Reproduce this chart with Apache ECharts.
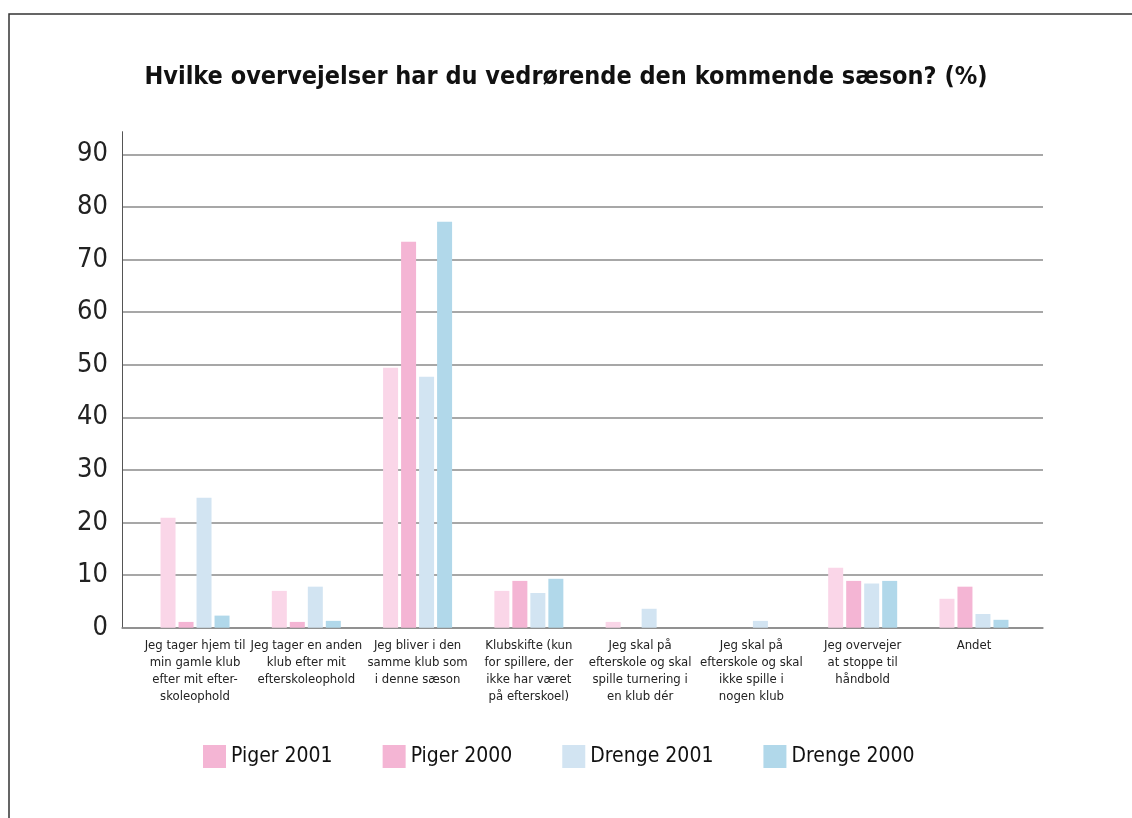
<!DOCTYPE html>
<html><head><meta charset="utf-8">
<script src="https://cdn.jsdelivr.net/npm/echarts@6/dist/echarts.min.js"></script>
<style>html,body{margin:0;padding:0;background:#fff}#c{width:1132px;height:818px}</style>
</head><body><div id="c"></div>
<script>
const categories = [
  'Jeg tager hjem til\nmin gamle klub\nefter mit efter-\nskoleophold',
  'Jeg tager en anden\nklub efter mit\nefterskoleophold',
  'Jeg bliver i den\nsamme klub som\ni denne sæson',
  'Klubskifte (kun\nfor spillere, der\nikke har været\npå efterskoel)',
  'Jeg skal på\nefterskole og skal\nspille turnering i\nen klub dér',
  'Jeg skal på\nefterskole og skal\nikke spille i\nnogen klub',
  'Jeg overvejer\nat stoppe til\nhåndbold',
  'Andet'
];
const seriesNames = ['Piger 2001', 'Piger 2000', 'Drenge 2001', 'Drenge 2000'];
const piger2001 = [20.9, 7.0, 49.4, 7.0, 1.1, 0, 11.4, 5.5];
const piger2000 = [1.1, 1.1, 73.4, 8.9, 0, 0, 8.9, 7.8];
const drenge2001 = [24.7, 7.8, 47.7, 6.6, 3.6, 1.3, 8.4, 2.6];
const drenge2000 = [2.3, 1.3, 77.2, 9.3, 0, 0, 8.9, 1.5];
const yTickLabels = [0, 10, 20, 30, 40, 50, 60, 70, 80, 90];

const barColors = ['#fad6e8', '#f4b5d4', '#d2e4f2', '#b1d8ea'];
const legendColors = ['#f4b5d4', '#f4b5d4', '#d2e4f2', '#b1d8ea'];
const FONT = "'Liberation Sans Narrow', 'DejaVu Sans Condensed', 'Liberation Sans', sans-serif";
const YMAX = 94.3;

const values = [piger2001, piger2000, drenge2001, drenge2000];
const splitColors = yTickLabels.map(() => '#8a8a8a').concat(['rgba(0,0,0,0)']);

const chart = echarts.init(document.getElementById('c'), null, {renderer: 'canvas'});
chart.setOption({
  backgroundColor: '#fff',
  animation: false,
  title: {
    text: 'Hvilke overvejelser har du vedrørende den kommende sæson? (%)',
    left: 'center', top: 60,
    textStyle: {fontFamily: FONT, fontWeight: 'bold', fontSize: 25, color: '#111'}
  },
  graphic: [{
    type: 'polyline', silent: true,
    shape: {points: [[9, 818], [9, 14], [1132, 14]]},
    style: {stroke: '#333', lineWidth: 1.5, fill: null}
  }],
  legend: {
    left: 198, top: 740,
    itemWidth: 23, itemHeight: 23, itemGap: 50,
    icon: 'rect',
    textStyle: {fontFamily: FONT, fontSize: 21, color: '#111', padding: [0, 0, 0, 0]},
    data: seriesNames.map((n, i) => ({name: n, itemStyle: {color: legendColors[i]}}))
  },
  grid: [
    {left: 122, right: 89, top: 131.7, bottom: 190.3},
    {left: 139.4, right: 102.4, top: 131.7, bottom: 190.3}
  ],
  xAxis: [
    {type: 'category', gridIndex: 0, data: categories,
     axisLine: {show: true, lineStyle: {color: '#8a8a8a', width: 1.5}},
     axisTick: {show: false}, axisLabel: {show: false}, splitLine: {show: false}},
    {type: 'category', gridIndex: 1, data: categories,
     axisLine: {show: false}, axisTick: {show: false},
     axisLabel: {interval: 0, margin: 9, fontFamily: FONT, fontSize: 13, lineHeight: 17, color: '#222', align: 'center'}}
  ],
  yAxis: [
    {type: 'value', gridIndex: 0, min: 0, max: YMAX, interval: 10,
     axisLine: {show: true, lineStyle: {color: '#555', width: 1}},
     axisTick: {show: false},
     axisLabel: {margin: 14, fontFamily: FONT, fontSize: 27, color: '#222',
       formatter: v => (yTickLabels.indexOf(Math.round(v)) >= 0 && Math.abs(v - Math.round(v)) < 1e-6) ? String(Math.round(v)) : ''},
     splitLine: {show: true, lineStyle: {color: splitColors, width: 1.5}}},
    {type: 'value', gridIndex: 1, min: 0, max: YMAX, show: false, splitLine: {show: false}}
  ],
  series: values.map((v, i) => ({
    name: seriesNames[i], type: 'bar', xAxisIndex: 1, yAxisIndex: 1,
    data: v, barWidth: 15, barGap: '20%',
    itemStyle: {color: barColors[i]}
  }))
});
</script></body></html>
